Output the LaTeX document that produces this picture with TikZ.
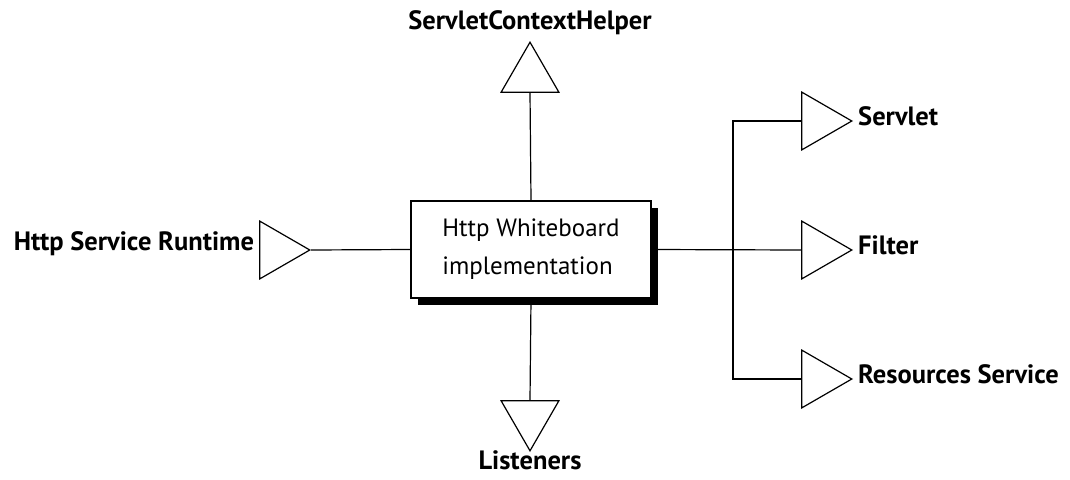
\documentclass[tikz,border=0pt]{standalone}
\usepackage{fontspec}
\setmainfont{PT Sans}
\usetikzlibrary{shapes.geometric,shadows,positioning}

\tikzset{
  port/.style={draw, isosceles triangle, isosceles triangle apex angle=60,
    minimum height=50pt, inner sep=0pt, line width=1.2pt, fill=white, anchor=apex},
  portlabel/.style={font=\bfseries\fontsize{26.5}{30}\selectfont, inner sep=2pt},
  implbox/.style={draw, line width=1.3pt, fill=white, minimum width=240pt,
    minimum height=97pt, align=left, font=\fontsize{25}{38}\selectfont,
    drop shadow={shadow xshift=7pt, shadow yshift=-7pt, opacity=1, fill=black}},
  wire/.style={line width=1.2pt}
}

\begin{document}
\begin{tikzpicture}[x=1pt,y=-1pt]
\useasboundingbox (0,0) rectangle (1070,479);
% the implementation in the middle
\node[implbox] (impl) at (531,249.5) {Http Whiteboard\\implementation};
% ports round it, placed by their apex
\node[port, shape border rotate=0] (runtime) at (311,250) {};
\node[port, shape border rotate=90] (helper) at (530,41) {};
\node[port, shape border rotate=270] (listeners) at (530,452) {};
\node[port, shape border rotate=0] (servlet) at (853,121) {};
\node[port, shape border rotate=0] (filter) at (853,250) {};
\node[port, shape border rotate=0] (resources) at (853,379) {};
\coordinate (bus) at (733,250);
% labels
\node[portlabel, left=3pt of runtime.lower side, yshift=6pt] (runtimelbl) {Http Service Runtime};
\node[portlabel, above=4pt of helper.apex] (helperlbl) {ServletContextHelper};
\node[portlabel, below=-4pt of listeners.apex] (listenerslbl) {Listeners};
\node[portlabel, right=3pt of servlet.apex, yshift=5pt] (servletlbl) {Servlet};
\node[portlabel, right=3pt of filter.apex, yshift=5pt] (filterlbl) {Filter};
\node[portlabel, right=3pt of resources.apex, yshift=5pt] (resourceslbl) {Resources Service};
% wires
\draw[wire] (runtime.apex) -- (impl.west);
\draw[wire] (helper.lower side) -- (impl.north);
\draw[wire] (impl.south) -- (listeners.lower side);
\draw[wire] (impl.east) -- (filter.lower side);
\draw[wire] (servlet.lower side) -- (servlet.lower side -| bus) -- (resources.lower side -| bus) -- (resources.lower side);
\end{tikzpicture}
\end{document}
